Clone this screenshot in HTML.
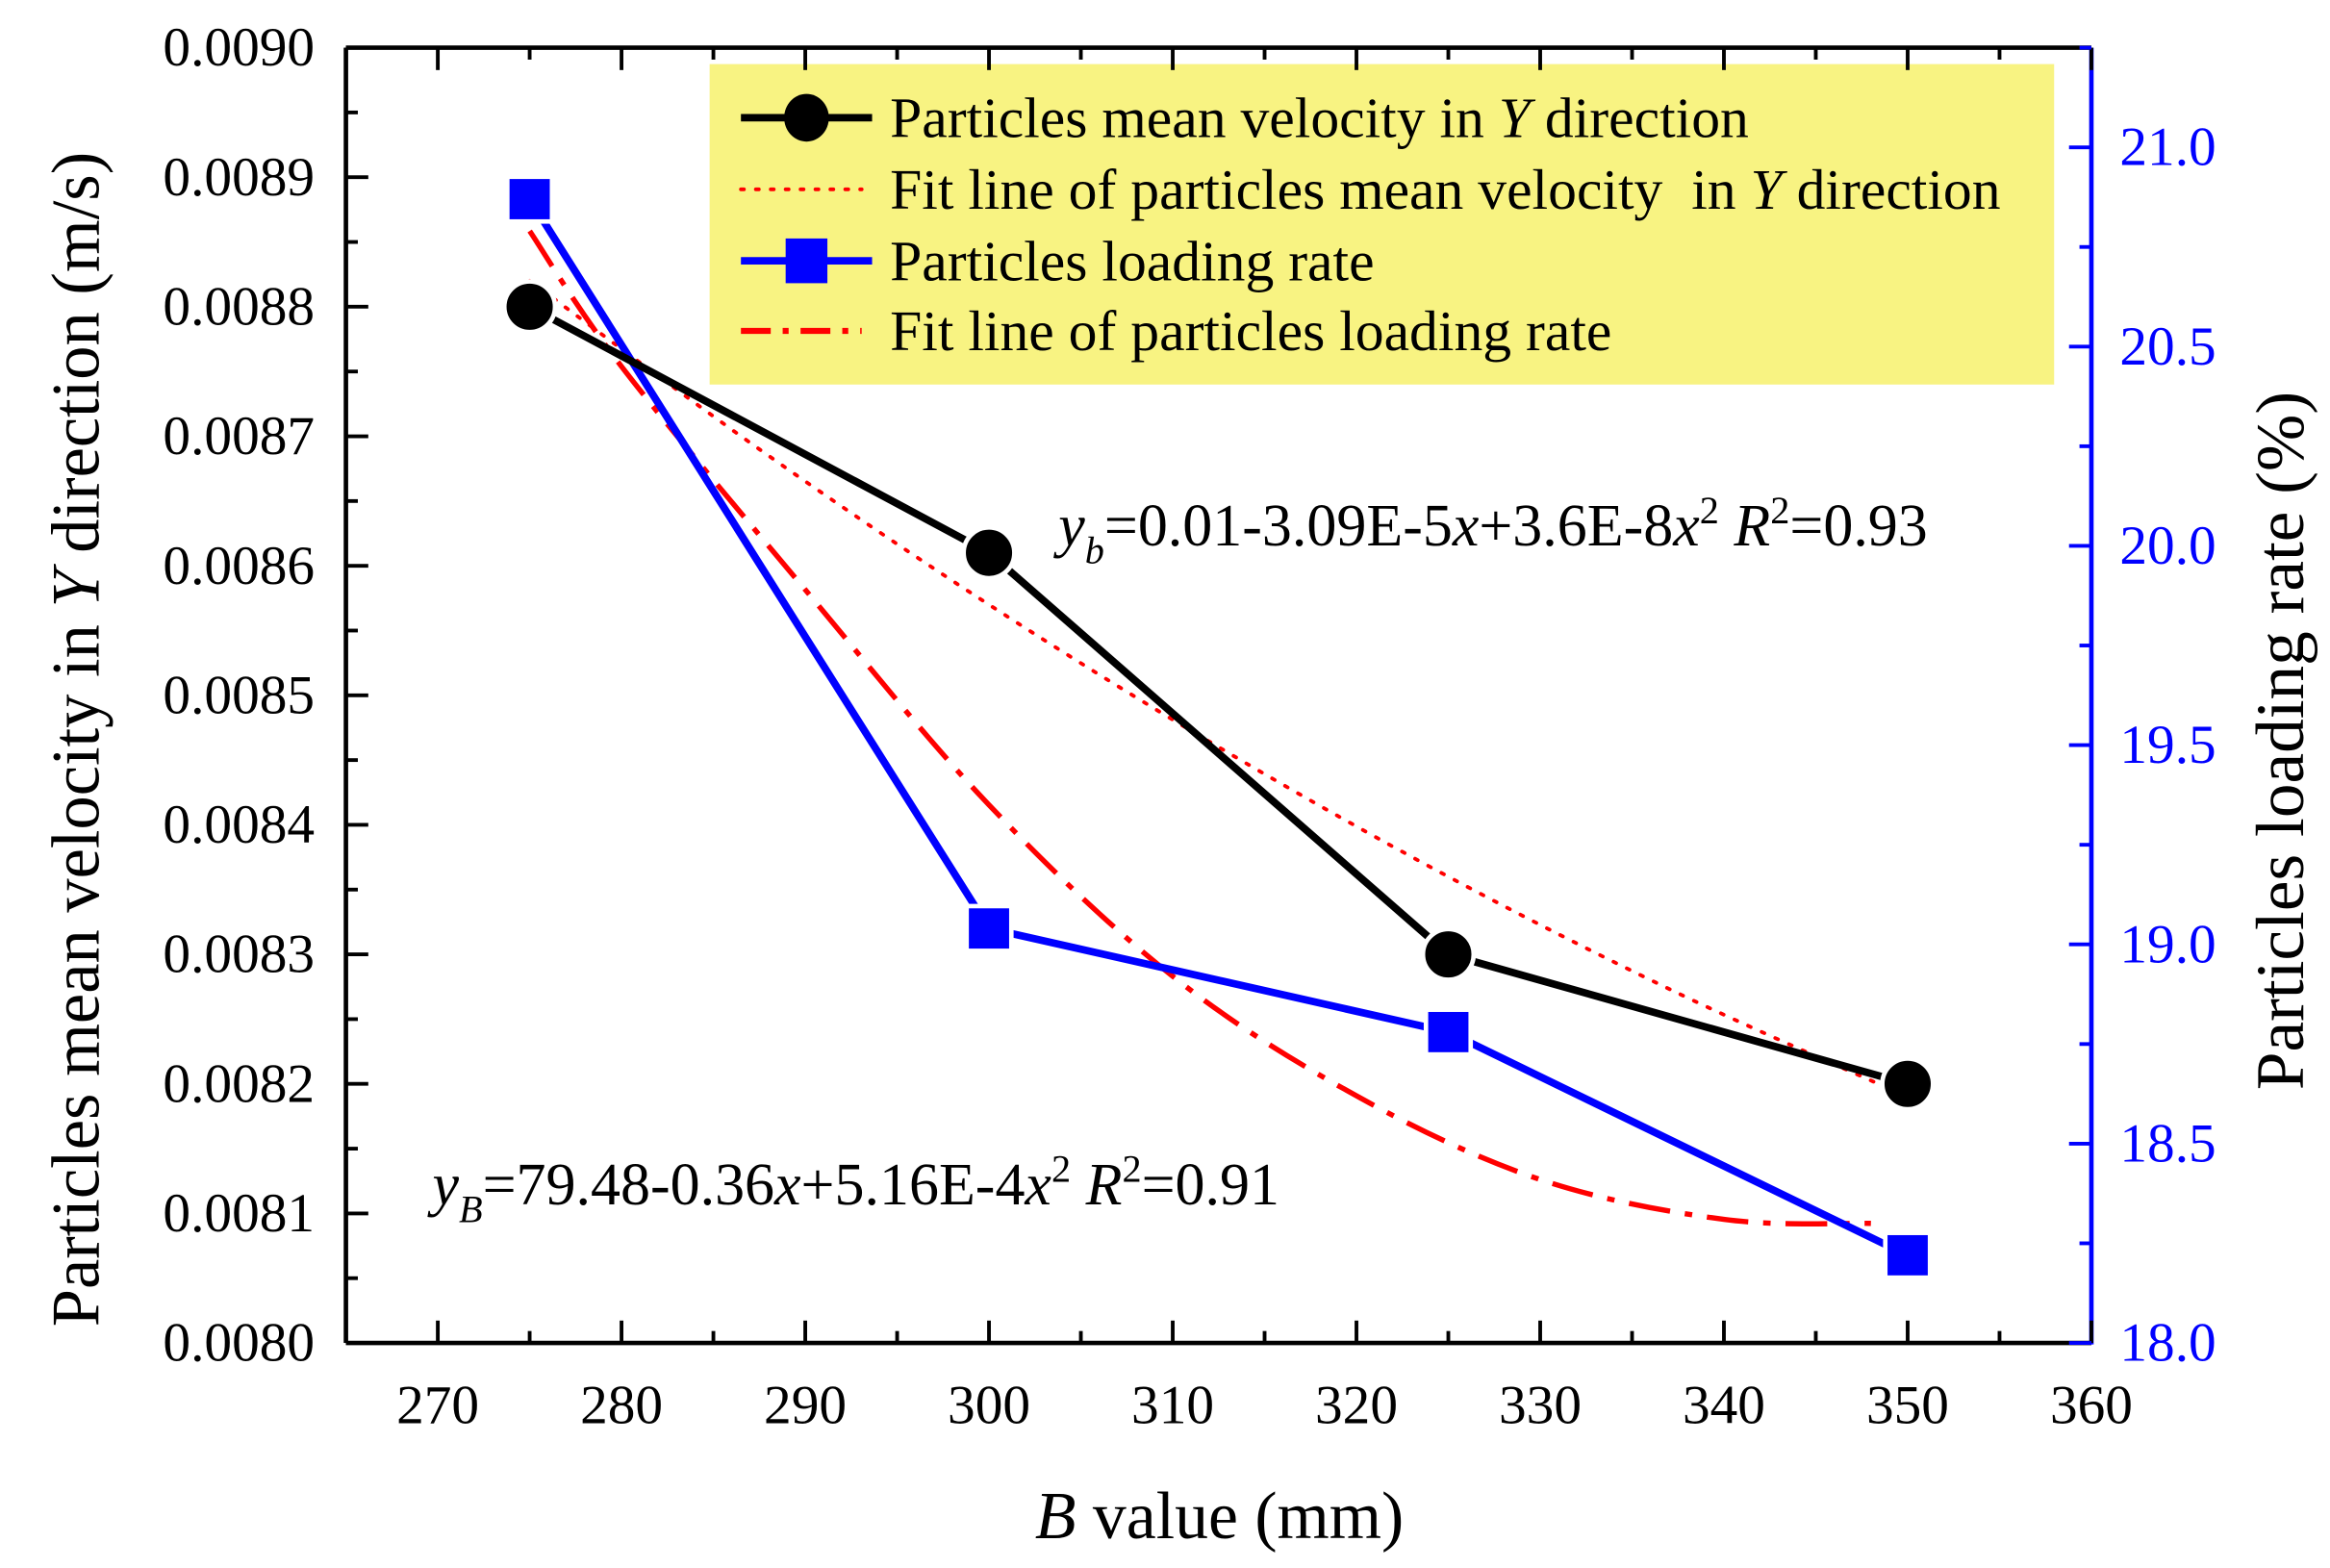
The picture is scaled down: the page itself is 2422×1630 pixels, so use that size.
<!DOCTYPE html>
<html><head><meta charset="utf-8"><style>
html,body{margin:0;padding:0;background:#fff;}
svg{display:block;}
text{font-family:"Liberation Serif",serif;}
</style></head><body>
<svg id="chart" width="2422" height="1630" viewBox="0 0 1563 1052" xmlns="http://www.w3.org/2000/svg">
<rect x="0" y="0" width="1563" height="1052" fill="#fff"/>
<g id="plot"></g>
</svg>
<script>
const xCats = [275, 300, 325, 350];
const velocity = [0.0088, 0.00861, 0.0083, 0.0082];
const loading = [20.87, 19.04, 18.78, 18.22];
const velFitX = [275, 287.5, 300, 312.5, 325, 337.5, 350];
const velFitY = [0.00882, 0.00869, 0.00857, 0.00846, 0.00836, 0.00827, 0.00819];
const loadFitX = [275, 280, 290, 300, 310, 320, 330, 340, 348];
const loadFitY = [20.79, 20.45, 19.89, 19.35, 18.92, 18.62, 18.41, 18.31, 18.30];
const xTicks = [270, 280, 290, 300, 310, 320, 330, 340, 350, 360];
const yLeftTicks = ["0.0080","0.0081","0.0082","0.0083","0.0084","0.0085","0.0086","0.0087","0.0088","0.0089","0.0090"];
const yRightTicks = ["18.0","18.5","19.0","19.5","20.0","20.5","21.0"];

const L=232,R=1403,T=32,B=901;
const xs=v=>L+(v-265)/(360-265)*(R-L);
const yl=v=>B-(v-0.008)/(0.009-0.008)*(B-T);
const yr=v=>B-(v-18)/(21.25-18)*(B-T);
const NS="http://www.w3.org/2000/svg";
const g=document.getElementById('plot');
function mk(tag,attrs,parent){const e=document.createElementNS(NS,tag);for(const k in attrs)e.setAttribute(k,attrs[k]);(parent||g).appendChild(e);return e;}

const lg=mk('g',{});


mk('rect',{x:476,y:43,width:902,height:215,fill:'#f8f382'},lg);

const ax=mk('g',{});


mk('line',{x1:L,y1:T,x2:R,y2:T,stroke:'#000','stroke-width':3},ax);
mk('line',{x1:L,y1:B,x2:R,y2:B,stroke:'#000','stroke-width':3},ax);
mk('line',{x1:L,y1:T,x2:L,y2:B,stroke:'#000','stroke-width':3},ax);
mk('line',{x1:R,y1:T,x2:R,y2:B+1,stroke:'#0000ff','stroke-width':3},ax);

for(let v=265;v<=360;v+=5){
  const x=xs(v);const major=v%10===0;
  mk('line',{x1:x,y1:B,x2:x,y2:B-(major?15:8),stroke:'#000','stroke-width':2.5},ax);
  mk('line',{x1:x,y1:T,x2:x,y2:T+(major?15:8),stroke:'#000','stroke-width':2.5},ax);
}
xTicks.forEach(v=>{const t=mk('text',{x:xs(v),y:955,'font-size':37,'text-anchor':'middle'},ax);t.textContent=v;

});
for(let i=0;i<=20;i++){const v=0.008+i*0.00005;const y=yl(v);const major=i%2===0;
  mk('line',{x1:L,y1:y,x2:L+(major?15:8),y2:y,stroke:'#000','stroke-width':2.5},ax);}
yLeftTicks.forEach(s=>{const t=mk('text',{x:211,y:yl(parseFloat(s))+12,'font-size':37,'text-anchor':'end'},ax);t.textContent=s;

});
for(let i=0;i<=13;i++){const v=18+i*0.25;const y=yr(v);const major=i%2===0;
  mk('line',{x1:R,y1:y,x2:R-(major?15:8),y2:y,stroke:'#0000ff','stroke-width':2.5},ax);}
yRightTicks.forEach(s=>{const t=mk('text',{x:1422,y:yr(parseFloat(s))+12,'font-size':37,fill:'#0000ff'},ax);t.textContent=s;

});

const xt=mk('text',{x:818,y:1032,'font-size':45,'text-anchor':'middle'});
xt.innerHTML='<tspan font-style="italic">B</tspan> value (mm)';


const ylt=mk('text',{x:0,y:0,'font-size':45.5,'text-anchor':'middle',transform:'translate(66,496) rotate(-90)'});
ylt.innerHTML='Particles mean velocity in <tspan font-style="italic">Y</tspan> direction (m/s)';


const yrt=mk('text',{x:0,y:0,'font-size':46,'text-anchor':'middle',transform:'translate(1545,497) rotate(-90)'});
yrt.textContent='Particles loading rate (%)';



function pathFrom(xa,ya,yf){return xa.map((x,i)=>(i?'L':'M')+xs(x).toFixed(1)+','+yf(ya[i]).toFixed(1)).join(' ');}
function smooth(xa,ya,yf){const p=xa.map((x,i)=>[xs(x),yf(ya[i])]);let d='M'+p[0][0]+','+p[0][1];
 for(let i=0;i<p.length-1;i++){const p0=p[i-1]||p[i],p1=p[i],p2=p[i+1],p3=p[i+2]||p2;
  const c1=[p1[0]+(p2[0]-p0[0])/6,p1[1]+(p2[1]-p0[1])/6],c2=[p2[0]-(p3[0]-p1[0])/6,p2[1]-(p3[1]-p1[1])/6];
  d+=` C${c1[0]},${c1[1]} ${c2[0]},${c2[1]} ${p2[0]},${p2[1]}`;}return d;}
const vf=mk('path',{d:smooth(velFitX,velFitY,yl),fill:'none',stroke:'#ff0000','stroke-width':2.5,'stroke-dasharray':'2 8','stroke-linecap':'round'});


const lf=mk('path',{d:smooth(loadFitX,loadFitY,yr),fill:'none',stroke:'#ff0000','stroke-width':3.5,'stroke-dasharray':'28 10 5 10'});



const bl=mk('path',{d:pathFrom(xCats,loading,yr),fill:'none',stroke:'#0000ff','stroke-width':5});


const kl=mk('path',{d:pathFrom(xCats,velocity,yl),fill:'none',stroke:'#000','stroke-width':5});


xCats.forEach((x,i)=>{
  const c=mk('circle',{cx:xs(x),cy:yl(velocity[i]),r:17,fill:'#000',stroke:'#fff','stroke-width':3});
  
  
  const s=mk('rect',{x:xs(x)-15,y:yr(loading[i])-15,width:30,height:30,fill:'#0000ff',stroke:'#fff','stroke-width':3});
  
  
});

const a1=mk('text',{x:710,y:366,'font-size':40});
a1.innerHTML='<tspan font-style="italic">y</tspan><tspan font-style="italic" font-size="26" dy="12">b</tspan><tspan dy="-12">=0.01-3.09E-5</tspan><tspan font-style="italic">x</tspan>+3.6E-8<tspan font-style="italic">x</tspan><tspan font-size="26" dy="-15">2</tspan><tspan dy="15"> </tspan><tspan font-style="italic">R</tspan><tspan font-size="26" dy="-15">2</tspan><tspan dy="15">=0.93</tspan>';


const a2=mk('text',{x:290,y:808,'font-size':40});
a2.innerHTML='<tspan font-style="italic">y</tspan><tspan font-style="italic" font-size="26" dy="12">B</tspan><tspan dy="-12">=79.48-0.36</tspan><tspan font-style="italic">x</tspan>+5.16E-4<tspan font-style="italic">x</tspan><tspan font-size="26" dy="-15">2</tspan><tspan dy="15"> </tspan><tspan font-style="italic">R</tspan><tspan font-size="26" dy="-15">2</tspan><tspan dy="15">=0.91</tspan>';



const rows=[79,127,175,222];
const labels=['Particles mean velocity in <tspan font-style="italic">Y</tspan> direction','Fit line of particles mean velocity &#160;in <tspan font-style="italic">Y</tspan> direction','Particles loading rate','Fit line of particles loading rate'];
mk('line',{x1:497,y1:rows[0],x2:585,y2:rows[0],stroke:'#000','stroke-width':5},lg);
mk('ellipse',{cx:541,cy:rows[0],rx:15,ry:16,fill:'#000'},lg);
mk('line',{x1:497,y1:rows[1],x2:578,y2:rows[1],stroke:'#ff0000','stroke-width':2.5,'stroke-dasharray':'2 8','stroke-linecap':'round'},lg);
mk('line',{x1:497,y1:rows[2],x2:585,y2:rows[2],stroke:'#0000ff','stroke-width':5},lg);
mk('rect',{x:527,y:rows[2]-15,width:28,height:30,fill:'#0000ff'},lg);
mk('line',{x1:497,y1:rows[3],x2:578,y2:rows[3],stroke:'#ff0000','stroke-width':4,'stroke-dasharray':'20 8 4 8'},lg);
labels.forEach((s,i)=>{const t=mk('text',{x:597,y:rows[i]+13,'font-size':38.5},lg);t.innerHTML=s;

});
</script>
</body></html>
